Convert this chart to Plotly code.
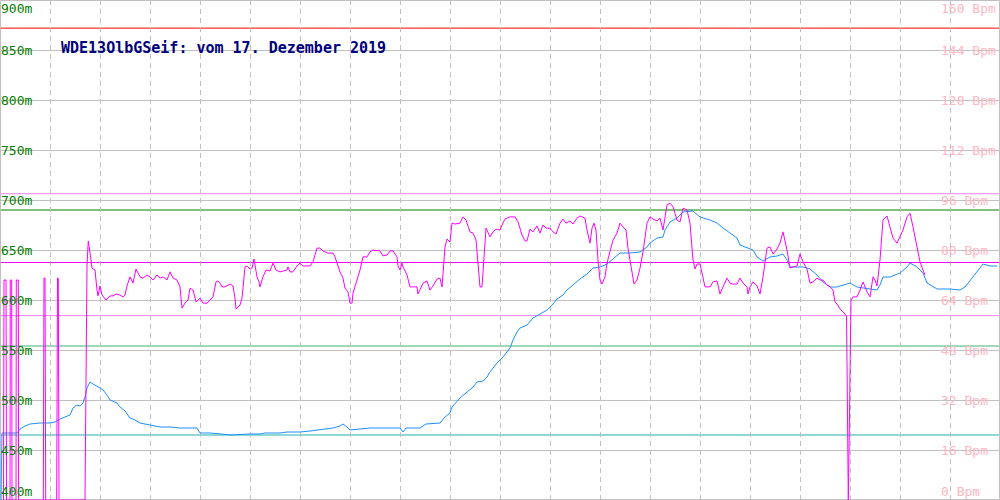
import plotly.graph_objects as go

# ---------------- data ----------------
title_text = "WDE13OlbGSeif: vom 17. Dezember 2019"

alt_ticks = [400, 450, 500, 550, 600, 650, 700, 750, 800, 850, 900]
bpm_ticks = [0, 16, 32, 48, 64, 80, 96, 112, 128, 144, 160]

# altitude (m), left axis
alt_t = [1, 2, 17, 20, 25, 30, 40, 50, 55, 60, 70, 73, 77, 80, 83, 85, 87, 90, 93, 97,
         100, 103, 107, 110, 113, 117, 120, 125, 130, 135, 140, 145, 150, 160, 170, 180,
         190, 197, 200, 210, 221, 230, 250, 260, 265, 280, 287, 300, 310, 317, 327, 333,
         340, 343, 347, 350, 360, 370, 390, 400, 403, 406, 420, 426, 440, 445, 450, 452,
         460, 467, 473, 477, 483, 487, 490, 497, 503, 510, 513, 517, 520, 527, 533, 540,
         547, 553, 557, 563, 567, 573, 580, 587, 593, 600, 607, 613, 620, 630, 640, 647,
         650, 657, 663, 665, 670, 677, 683, 693, 700, 710, 717, 723, 730, 737, 740, 747,
         753, 757, 763, 770, 777, 783, 787, 790, 797, 803, 810, 817, 823, 830, 837, 850,
         857, 863, 870, 877, 880, 883, 890, 900, 907, 910, 917, 923, 927, 937, 950, 960,
         965, 973, 983, 990, 997]
alt_m = [400, 467, 467, 471, 474, 476, 477, 477, 478, 481, 485, 492, 495, 494, 497, 503, 512, 518, 516, 514,
         512, 510, 505, 500, 499, 497, 493, 489, 482, 480, 477, 476, 475, 473, 473, 472,
         472, 472, 467, 467, 466, 465, 466, 466, 467, 467, 468, 468, 469, 470, 471, 472,
         474, 476, 473, 470, 471, 472, 472, 472, 468, 472, 472, 476, 477, 483, 487, 493,
         502, 508, 513, 518, 519, 523, 528, 537, 543, 552, 560, 568, 572, 575, 582, 586,
         590, 596, 601, 605, 610, 615, 621, 626, 632, 633, 636, 641, 647, 647, 648, 653,
         657, 662, 663, 670, 678, 682, 688, 689, 683, 680, 677, 672, 667, 662, 655, 652,
         650, 643, 639, 643, 644, 646, 640, 633, 633, 633, 631, 625, 618, 613, 613, 617,
         613, 612, 611, 610, 615, 623, 623, 627, 633, 637, 633, 627, 617, 611, 611, 610,
         613, 623, 636, 634, 634]

# heart rate (Bpm), right axis
hr_t = [3.5, 4, 6, 6.5, 10, 10.3, 11.7, 12, 16, 16.3, 18.3, 18.6, 43.3, 44, 45, 45.7,
        56.7, 57.5, 58.3, 59, 85, 87, 88.3, 89, 90, 91, 92, 95, 97, 98, 100, 102, 106,
        110, 113, 116, 120, 123, 125, 127, 130, 133, 136, 140, 143, 147, 150, 153, 157,
        160, 163, 167, 170, 173, 177, 180, 182, 185, 188, 190, 193, 196, 200, 203, 207,
        210, 213, 216, 218, 220, 222, 225, 230, 233, 235, 236, 240, 242, 245, 247, 250,
        252, 254, 257, 259, 260, 263, 266, 270, 273, 276, 280, 283, 287, 288, 290, 293,
        297, 300, 303, 307, 310, 313, 317, 320, 323, 328, 333, 335, 337, 340, 343, 345,
        348, 350, 352, 353, 357, 360, 363, 367, 370, 373, 380, 383, 387, 390, 393, 397,
        398, 400, 402, 403, 407, 410, 413, 417, 418, 420, 423, 427, 430, 433, 437, 440,
        442, 445, 447, 450, 452, 455, 460, 463, 466, 470, 473, 476, 478, 480, 482, 484,
        486, 490, 493, 496, 500, 502, 505, 510, 515, 518, 522, 525, 527, 530, 533, 537,
        540, 543, 546, 550, 553, 556, 560, 563, 566, 570, 573, 577, 580, 585, 587, 590,
        592, 594, 596, 598, 600, 602, 605, 607, 610, 613, 617, 620, 623, 626, 628, 630,
        632, 634, 637, 640, 643, 647, 650, 653, 657, 660, 663, 667, 670, 673, 677, 680,
        683, 687, 690, 693, 695, 697, 700, 703, 705, 710, 713, 717, 720, 723, 727, 730,
        733, 737, 740, 743, 747, 748, 750, 753, 757, 760, 763, 767, 770, 773, 777, 780,
        783, 787, 790, 793, 797, 800, 803, 807, 810, 813, 817, 820, 823, 827, 830, 833,
        835, 837, 840, 843, 846.5, 847, 847.5, 848.3, 849, 850, 851, 853, 857, 860, 863,
        867, 870, 873, 875, 877, 880, 883, 887, 890, 893, 897, 900, 903, 907, 910, 913,
        917, 920, 923, 925]
hr_bpm = [0, 70.4, 70.4, 0, 0, 70.4, 70.4, 0, 0, 70.4, 70.4, 0, 0, 71, 71, 0,
          0, 71, 71, 0, 0, 75.2, 82.9, 81.6, 80, 76.8, 74.2, 73.6, 67.2, 65.3, 68.5, 65.6, 64,
          65.3, 65.3, 65.9, 65.6, 65, 65.6, 68.5, 71.4, 69.4, 73.9, 71.4, 71, 72, 71.4, 70.4, 72,
          71, 71.4, 70.4, 73, 71, 70.4, 68.2, 61.4, 63, 64, 67.8, 67.2, 63.4, 64.6, 63, 63,
          64, 65, 69.8, 70.1, 69.4, 68.2, 68.2, 69.1, 68.5, 64.6, 61.1, 62.4, 64.6, 74.6, 74.9, 73.9,
          74.2, 77.1, 71.4, 69.8, 68.2, 71.4, 73.6, 73.3, 75.8, 73.6, 73, 73.3, 73.6, 74.6, 73, 73,
          74.9, 75.8, 74.9, 74.9, 74.9, 76.2, 80.6, 80.6, 79.7, 79, 79, 77.8, 75.8, 73, 71, 67.8,
          66.6, 63, 63, 66.2, 70.4, 73.6, 77.8, 77.8, 79.4, 80, 79.7, 78.1, 78.4, 79.7, 79.7, 77.8,
          74.9, 73.6, 75.8, 74.6, 72, 68.2, 68.2, 68.2, 65.9, 67.2, 69.4, 70.1, 67.2, 68.5, 70.7, 71,
          68.2, 81, 83.5, 82.6, 88.6, 88.3, 88.6, 90.6, 89.6, 85.8, 85.4, 83.2, 76.8, 68.2, 68.2, 76.8,
          87, 84.2, 85.8, 86.7, 86.4, 88, 89.9, 90.6, 90.6, 89, 84.8, 82.9, 82.9, 86.7, 85.8, 87.7,
          85.4, 88, 87, 87, 85.8, 85.1, 88.6, 89.9, 88.6, 89.3, 88.3, 90.2, 90.9, 90.2, 86.4, 82.2,
          87, 88.6, 86.4, 76.8, 70.4, 69.1, 71.4, 75.8, 80, 83.2, 85.4, 88.6, 87.4, 86.4, 80.6, 76.8,
          72.6, 69.1, 70.4, 74.2, 79.4, 88.6, 90.6, 89.9, 89.3, 90.2, 86.4, 94.4, 95, 93.8, 89.6, 89,
          93.4, 92.8, 88.6, 76.8, 73.9, 75.5, 75.5, 71.4, 68.2, 68.2, 69.8, 70.1, 65.9, 68.2, 71, 69.4,
          69.1, 69.1, 71, 69.4, 68.2, 65.9, 68.2, 69.8, 68.5, 65.9, 71.4, 80.6, 81, 78.7, 80.3, 82.2,
          85.8, 80, 74.2, 74.6, 74.9, 78.7, 76.2, 73.9, 69.4, 69.8, 71, 70.4, 70.4, 68.8, 68.2, 67.2,
          63.4, 62.7, 61.1, 60.2, 58.9, 44.2, 15, 0, 15.4, 45.8, 64, 65, 65, 67.2, 69.8,
          66.6, 65, 71.4, 70.4, 68.5, 76.8, 89.6, 90.9, 87.4, 83.8, 82.2, 84.2, 86.4, 90.6, 91.8, 87.4,
          81, 76.2, 73.6, 72]

# reference lines
hr_ref_values = [151, 98, 76, 59]
hr_ref_colors = ["#ff0000", "#ee82ee", "#ff00ff", "#ee82ee"]
alt_ref_values = [690, 554, 465]
alt_ref_colors = ["#008000", "#3cb371", "#20b2aa"]

# ---------------- figure ----------------
GRID = "#c0c0c0"
MONO = "DejaVu Sans Mono"

fig = go.Figure()
fig.add_trace(go.Scatter(x=alt_t, y=alt_m, mode="lines", yaxis="y",
                         line=dict(color="#1e90ff", width=1), hoverinfo="skip"))
fig.add_trace(go.Scatter(x=hr_t, y=hr_bpm, mode="lines", yaxis="y2",
                         line=dict(color="#ff00ff", width=1), hoverinfo="skip"))

shapes = []
for v, c in zip(alt_ref_values, alt_ref_colors):
    shapes.append(dict(type="line", xref="paper", x0=0, x1=1, yref="y", y0=v, y1=v,
                       line=dict(color=c, width=1), layer="between"))
for v, c in zip(hr_ref_values, hr_ref_colors):
    shapes.append(dict(type="line", xref="paper", x0=0, x1=1, yref="y2", y0=v, y1=v,
                       line=dict(color=c, width=1), layer="between"))
shapes.append(dict(type="rect", xref="paper", yref="paper", x0=0.0005, x1=0.9995,
                   y0=0.001, y1=0.999, line=dict(color=GRID, width=1), layer="between"))

annotations = []
for i, v in enumerate(alt_ticks):
    ya = "bottom" if i == 0 else ("top" if i == len(alt_ticks) - 1 else "middle")
    annotations.append(dict(text=f"{v}m", x=0, xref="paper", xanchor="left",
                            y=v, yref="y", yanchor=ya, showarrow=False,
                            font=dict(family=MONO, size=13, color="#008000"),
                            borderpad=0))
for i, v in enumerate(bpm_ticks):
    ya = "bottom" if i == 0 else ("top" if i == len(bpm_ticks) - 1 else "middle")
    annotations.append(dict(text=f"{v} Bpm", x=0.94, xref="paper", xanchor="left",
                            y=v, yref="y2", yanchor=ya, showarrow=False,
                            font=dict(family=MONO, size=13, color="#ffb6c1"),
                            borderpad=0))
annotations.append(dict(text=f"<b>{title_text}</b>", x=0.059, xref="paper", xanchor="left",
                        y=1 - 48 / 500, yref="paper", yanchor="middle", showarrow=False,
                        font=dict(family=MONO, size=15, color="#000080")))

fig.update_layout(
    width=1000, height=500,
    margin=dict(l=0, r=0, t=0, b=0),
    paper_bgcolor="white", plot_bgcolor="white",
    showlegend=False,
    xaxis=dict(range=[0, 1000], tick0=0, dtick=50, showgrid=True, gridcolor=GRID,
               gridwidth=1, griddash="5px,4px", showticklabels=False, zeroline=False,
               ticks="", fixedrange=True),
    yaxis=dict(range=[400, 900], tick0=400, dtick=50, showgrid=True, gridcolor=GRID,
               gridwidth=1, showticklabels=False, zeroline=False, ticks="", fixedrange=True),
    yaxis2=dict(range=[0, 160], overlaying="y", side="right", showgrid=False,
                showticklabels=False, zeroline=False, ticks="", fixedrange=True),
    shapes=shapes,
    annotations=annotations,
)

fig.write_html("out.html", config={"displayModeBar": False},
               post_script="document.body.style.margin='0px';document.body.style.overflow='hidden';")
